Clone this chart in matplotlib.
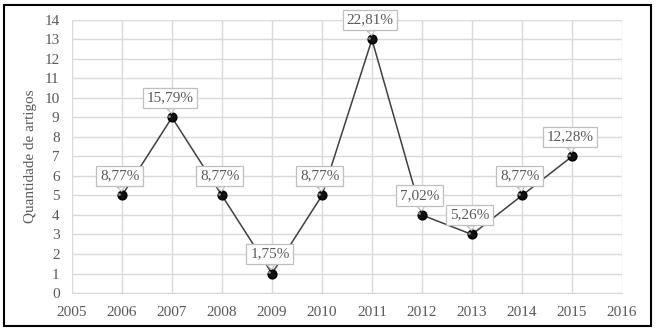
import matplotlib.pyplot as plt
from matplotlib.patches import Rectangle

anos = [2006, 2007, 2008, 2009, 2010, 2011, 2012, 2013, 2014, 2015]
quantidade = [5, 9, 5, 1, 5, 13, 4, 3, 5, 7]
percentuais = ['8,77%', '15,79%', '8,77%', '1,75%', '8,77%', '22,81%',
               '7,02%', '5,26%', '8,77%', '12,28%']

plt.rcParams['font.family'] = ['Liberation Serif', 'DejaVu Serif']
cinza = '#595959'

fig = plt.figure(figsize=(6.57, 3.31), dpi=100)
ax = fig.add_axes([0.1096, 0.1148, 0.837, 0.8248])

ax.plot(anos, quantidade, color='#404040', lw=1.1, zorder=3)
ax.scatter(anos, quantidade, s=40, color='#111111', edgecolor='#000000',
           zorder=4)
# small highlight for the shaded marker look
ax.scatter([a - 0.05 for a in anos], [q + 0.1 for q in quantidade], s=4,
           color='#8a8a8a', lw=0, zorder=5)

for x, y, txt in zip(anos, quantidade, percentuais):
    ax.annotate(txt, xy=(x, y), xytext=(-1.5, 14), textcoords='offset points',
                ha='center', va='center', fontsize=11, color=cinza, zorder=6,
                bbox=dict(boxstyle='square,pad=0.25', fc='white', ec='#bfbfbf', lw=0.9),
                arrowprops=dict(arrowstyle='wedge,tail_width=0.5,shrink_factor=0.5',
                                fc='white', ec='#bfbfbf', lw=0.8,
                                shrinkA=0, shrinkB=3))

ax.set_xlim(2005, 2016)
ax.set_ylim(0, 14)
ax.set_xticks(range(2005, 2017))
ax.set_yticks(range(0, 15))
ax.grid(True, color='#d9d9d9', lw=1)
ax.set_axisbelow(True)
for s in ax.spines.values():
    s.set_visible(False)
ax.spines['bottom'].set_visible(True)
ax.spines['bottom'].set_color('#d9d9d9')
ax.tick_params(length=0, labelsize=11, labelcolor=cinza)
ax.tick_params(axis='x', pad=9)
ax.tick_params(axis='y', pad=9)
ax.set_ylabel('Quantidade de artigos', fontsize=11, color=cinza, labelpad=5)

fig.patches.append(Rectangle((4 / 657, 5 / 331), 647 / 657, 321 / 331,
                             transform=fig.transFigure, fill=False,
                             ec='black', lw=1.5))

fig.savefig('out.png', dpi=100)
